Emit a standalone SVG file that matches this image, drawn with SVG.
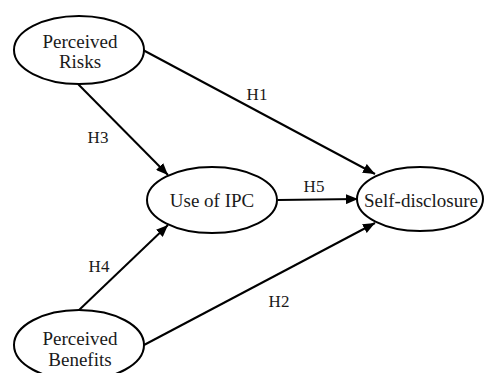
<svg xmlns="http://www.w3.org/2000/svg" width="484" height="373" viewBox="0 0 484 373">
<defs>
<style>
.node ellipse{fill:#fff;stroke:#000;stroke-width:2}
.node text{font-family:"Liberation Serif","Times New Roman",serif;font-size:19px;fill:#1a1a1a;text-anchor:middle}
.lbl{font-family:"Liberation Serif","Times New Roman",serif;font-size:17px;fill:#1a1a1a;text-anchor:middle}
.edge{stroke:#000;stroke-width:2;fill:none;marker-end:url(#arr)}
</style>
<marker id="arr" viewBox="0 0 12 10" refX="12" refY="5" markerWidth="12" markerHeight="10" markerUnits="userSpaceOnUse" orient="auto">
<path d="M0,0 L12,5 L0,10 Z" fill="#000"/>
</marker>
</defs>
<rect width="484" height="373" fill="#fff"/>
<g id="connectors">
<line class="edge" x1="143" y1="50" x2="375" y2="174"/>
<line class="edge" x1="78" y1="84" x2="168" y2="175"/>
<line class="edge" x1="278" y1="200" x2="358" y2="199"/>
<line class="edge" x1="78" y1="311" x2="168" y2="225"/>
<line class="edge" x1="144" y1="345" x2="375" y2="223"/>
<text class="lbl" x="257" y="100">H1</text>
<text class="lbl" x="98" y="143">H3</text>
<text class="lbl" x="314" y="192">H5</text>
<text class="lbl" x="99" y="272">H4</text>
<text class="lbl" x="279" y="307">H2</text>
</g>
<g id="perceived-risks" class="node">
<ellipse cx="79" cy="50" rx="65" ry="34"/>
<text x="80" y="48">Perceived</text>
<text x="80" y="68">Risks</text>
</g>
<g id="use-of-ipc" class="node">
<ellipse cx="212" cy="200" rx="65" ry="33"/>
<text x="212" y="207">Use of IPC</text>
</g>
<g id="self-disclosure" class="node">
<ellipse cx="420" cy="199" rx="63" ry="32"/>
<text x="421" y="207">Self-disclosure</text>
</g>
<g id="perceived-benefits" class="node">
<ellipse cx="79" cy="345" rx="65" ry="35"/>
<text x="80" y="345">Perceived</text>
<text x="80" y="366">Benefits</text>
</g>
</svg>
